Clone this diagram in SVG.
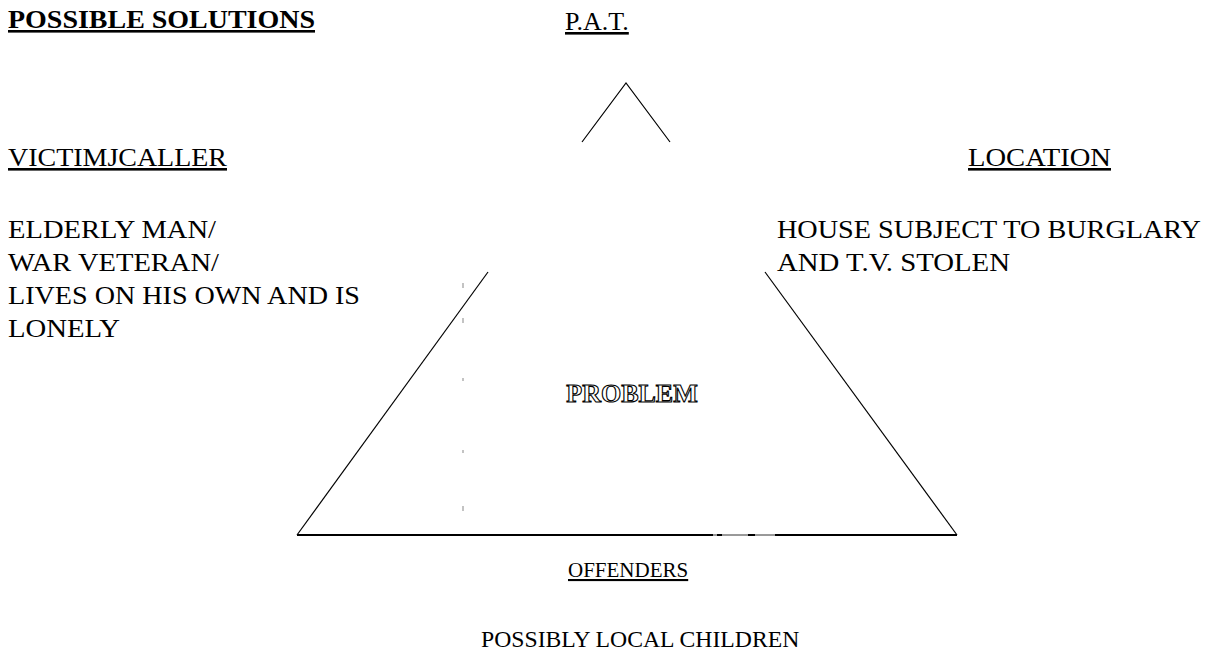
<svg xmlns="http://www.w3.org/2000/svg" width="1215" height="658" viewBox="0 0 1215 658">
<defs>
<marker id="none" markerWidth="1" markerHeight="1"/>
</defs>
<rect width="1215" height="658" fill="#fff"/>
<g id="title"><text x="8" y="28" font-family="Liberation Serif" font-size="26" font-weight="bold" text-decoration="underline" textLength="307" lengthAdjust="spacingAndGlyphs">POSSIBLE SOLUTIONS</text></g>
<g id="pat"><text x="565" y="30" font-family="Liberation Serif" font-size="26" text-decoration="underline">P.A.T.</text></g>
<g id="victim">
<text x="8" y="166" font-family="Liberation Serif" font-size="26" text-decoration="underline" textLength="219" lengthAdjust="spacingAndGlyphs">VICTIMJCALLER</text>
<text x="8" y="238" font-family="Liberation Serif" font-size="26" textLength="208" lengthAdjust="spacingAndGlyphs">ELDERLY MAN/</text>
<text x="8" y="271" font-family="Liberation Serif" font-size="26" textLength="211" lengthAdjust="spacingAndGlyphs">WAR VETERAN/</text>
<text x="8" y="304" font-family="Liberation Serif" font-size="26" textLength="352" lengthAdjust="spacingAndGlyphs">LIVES ON HIS OWN AND IS</text>
<text x="8" y="337" font-family="Liberation Serif" font-size="26" textLength="112" lengthAdjust="spacingAndGlyphs">LONELY</text>
</g>
<g id="location">
<text x="968" y="166" font-family="Liberation Serif" font-size="26" text-decoration="underline" textLength="143" lengthAdjust="spacingAndGlyphs">LOCATION</text>
<text x="777" y="238" font-family="Liberation Serif" font-size="26" textLength="424" lengthAdjust="spacingAndGlyphs">HOUSE SUBJECT TO BURGLARY</text>
<text x="777" y="271" font-family="Liberation Serif" font-size="26" textLength="233" lengthAdjust="spacingAndGlyphs">AND T.V. STOLEN</text>
</g>
<g id="problem"><text x="632" y="402" text-anchor="middle" fill="#fff" stroke="#000" stroke-width="1.1" font-family="Liberation Serif" font-size="26" font-weight="bold">PROBLEM</text></g>
<g id="offenders">
<text x="568" y="577" font-family="Liberation Serif" font-size="21" text-decoration="underline">OFFENDERS</text>
<text x="481" y="647" font-family="Liberation Serif" font-size="23.7">POSSIBLY LOCAL CHILDREN</text>
</g>
<g id="connectors" stroke="#000" fill="none">
<polyline stroke-width="1.2" points="582,142 626,83 670,142"/>
<line stroke-width="1.2" x1="488" y1="272" x2="297" y2="535"/>
<line stroke-width="1.2" x1="765" y1="272" x2="957" y2="535"/>
<line x1="297" y1="535" x2="713" y2="535" stroke-width="1.8"/>
<line x1="713" y1="535" x2="775" y2="535" stroke-width="0.8"/>
<rect x="717" y="534" width="5" height="2" fill="#000" stroke="none"/>
<rect x="748" y="534" width="7" height="2" fill="#000" stroke="none"/>
<line x1="775" y1="535" x2="957" y2="535" stroke-width="1.8"/>
<g fill="#888" stroke="none">
<rect x="462.5" y="283" width="1" height="5"/>
<rect x="462.5" y="318" width="1" height="5"/>
<rect x="462.5" y="378" width="1" height="3"/>
<rect x="462.5" y="450" width="1" height="3"/>
<rect x="462.5" y="506" width="1" height="5"/>
</g>
</g>
</svg>
